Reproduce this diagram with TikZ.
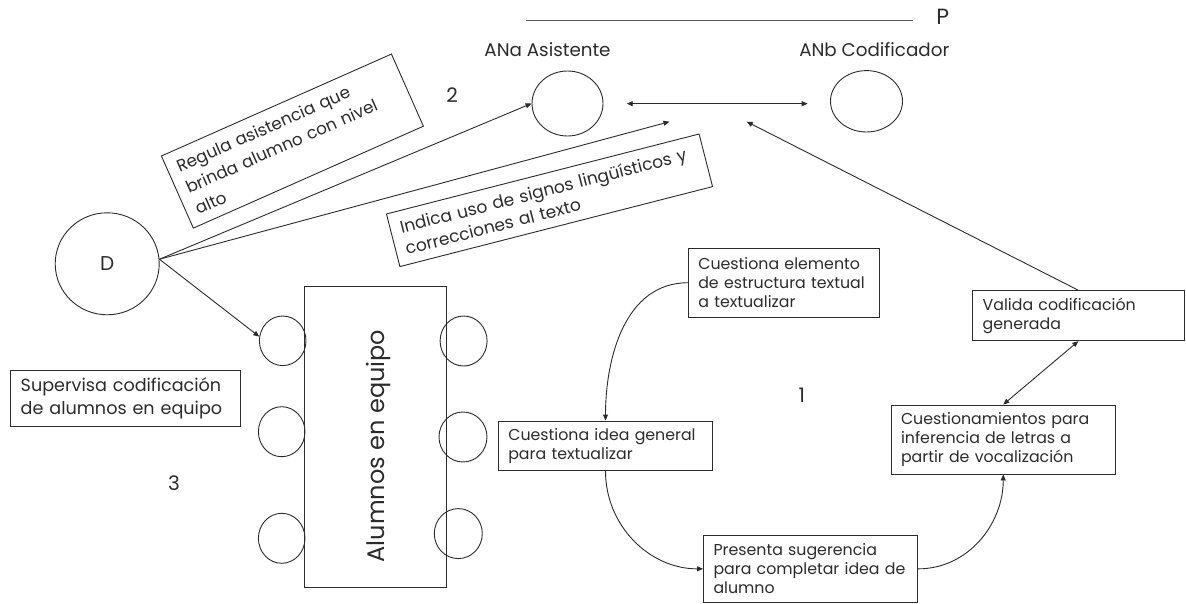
\documentclass[tikz,border=0pt]{standalone}
\usepackage{fontspec}
\setmainfont{Poppins}
\usetikzlibrary{shapes.geometric,arrows.meta}
\definecolor{ink}{HTML}{2B2B2B}
\definecolor{rule}{HTML}{5A5A5A}
\begin{document}
\begin{tikzpicture}[x=1pt,y=1pt,
  every node/.style={text=ink},
  line/.style={draw=ink, line width=0.9pt},
  arr/.style={line, -{Triangle[length=6pt,width=5pt]}},
  darr/.style={line, {Triangle[length=6pt,width=5pt]}-{Triangle[length=6pt,width=5pt]}},
  person/.style={ellipse, draw=ink, line width=0.9pt, inner sep=0pt},
  tbox/.style={draw=ink, line width=0.9pt, rectangle, inner xsep=10pt, inner ysep=0pt, align=left},
  small/.style={font=\fontsize{15.8}{19}\selectfont},
  label/.style={font=\fontsize{18.3}{20}\selectfont, inner sep=0pt},
  num/.style={font=\fontsize{20}{22}\selectfont, inner sep=0pt}
]
\useasboundingbox (0,0) rectangle (1186,-604);

% header rule of the participants
\coordinate (pl1) at (525.7,-20);
\coordinate (pl2) at (912.7,-20);
\draw[draw=rule, line width=0.8pt] (pl1) -- (pl2);
\node[num, font=\fontsize{22}{24}\selectfont] (P) at (942.7,-17.3) {P};

% assistant and coder pupils
\node[label] (lblA) at (547.5,-50) {ANa Asistente};
\node[label] (lblB) at (874.3,-50) {ANb Codificador};
\node[person, minimum width=71pt, minimum height=65pt] (ANa) at (567.5,-103.5) {};
\node[person, minimum width=72pt, minimum height=61.4pt] (ANb) at (866.5,-101.3) {};
\coordinate (ab1) at (626.7,-103.7);
\coordinate (ab2) at (807.7,-103.7);
\draw[darr] (ab1) -- (ab2);

% teacher
\node[person, minimum width=104pt, minimum height=102pt, font=\fontsize{20}{22}\selectfont] (D) at (107.2,-263.8) {D};

% rotated annotations
\node[tbox, font=\fontsize{16.8}{23}\selectfont, rotate=23.9, minimum width=251.6pt, minimum height=78.9pt, text width=231.6pt] (regula) at (292.4,-141.1)
  {Regula asistencia que\\brinda alumno con nivel\\alto};
\node[tbox, font=\fontsize{17.1}{22}\selectfont, rotate=14.35, minimum width=322.7pt, minimum height=54.3pt, text width=302.7pt] (indica) at (549.5,-200.3)
  {Indica uso de signos lingüísticos y\\correcciones al texto};

\node[num] (n2) at (452,-95) {2};
\node[num] (n3) at (174,-482.7) {3};
\node[num] (n1) at (801.7,-395) {1};

% team table with pupils around it
\node[draw=ink, line width=0.9pt, rectangle, minimum width=142.5pt, minimum height=300.3pt, inner sep=0pt] (mesa) at (375.25,-436.85) {};
\node[rotate=90, font=\fontsize{24}{26}\selectfont, inner sep=0pt] (mesaTxt) at (378.3,-446) {Alumnos en equipo};
\node[person, minimum width=46.6pt, minimum height=49.6pt] (s1) at (282.7,-340.8) {};
\node[person, minimum width=46.6pt, minimum height=50pt] (s2) at (281.7,-431.7) {};
\node[person, minimum width=46.6pt, minimum height=50pt] (s3) at (281.7,-538.3) {};
\node[person, minimum width=47pt, minimum height=50pt] (s4) at (463.6,-341) {};
\node[person, minimum width=48pt, minimum height=50pt] (s5) at (463,-437) {};
\node[person, minimum width=48pt, minimum height=50pt] (s6) at (458.3,-533.6) {};

\node[tbox, font=\fontsize{17.6}{22.7}\selectfont, minimum width=230pt, minimum height=56pt, text width=210pt] (superv) at (125.7,-398)
  {Supervisa codificación\\de alumnos en equipo};

% cycle 1
\node[tbox, small, minimum width=191.2pt, minimum height=68.5pt, text width=171.2pt] (elem) at (783.9,-282.75)
  {Cuestiona elemento\\de estructura textual\\a textualizar};
\node[tbox, small, minimum width=214.4pt, minimum height=49.7pt, text width=194.4pt] (idea) at (605.5,-445.85)
  {Cuestiona idea general\\para textualizar};
\node[tbox, small, minimum width=214.2pt, minimum height=67.7pt, text width=194.2pt] (suger) at (810.6,-568.85)
  {Presenta sugerencia\\para completar idea de\\alumno};
\node[tbox, small, minimum width=224.5pt, minimum height=69pt, text width=204.5pt] (cuest) at (1003.25,-439.5)
  {Cuestionamientos para\\inferencia de letras a\\partir de vocalización};
\node[tbox, small, minimum width=211.3pt, minimum height=50pt, text width=191.3pt] (valida) at (1078.35,-315.7)
  {Valida codificación\\generada};

% connectors
\coordinate (indT) at (669.5,-121.7);
\coordinate (valT) at (746.7,-121.7);
\draw[arr] (D.5) -- (ANa.west);
\draw[arr] (D.5) -- (indT);
\draw[arr] (D.5) -- (s1.170);
\draw[arr] (valida.north) -- (valT);
\draw[darr] (valida.south) -- (cuest.north);
\draw[arr] (elem.west) to[out=180, in=90] (idea.north);
\draw[arr] (idea.south) to[out=-90, in=180] (suger.west);
\draw[arr] (suger.east) to[out=0, in=-90] (cuest.south);
\end{tikzpicture}
\end{document}
